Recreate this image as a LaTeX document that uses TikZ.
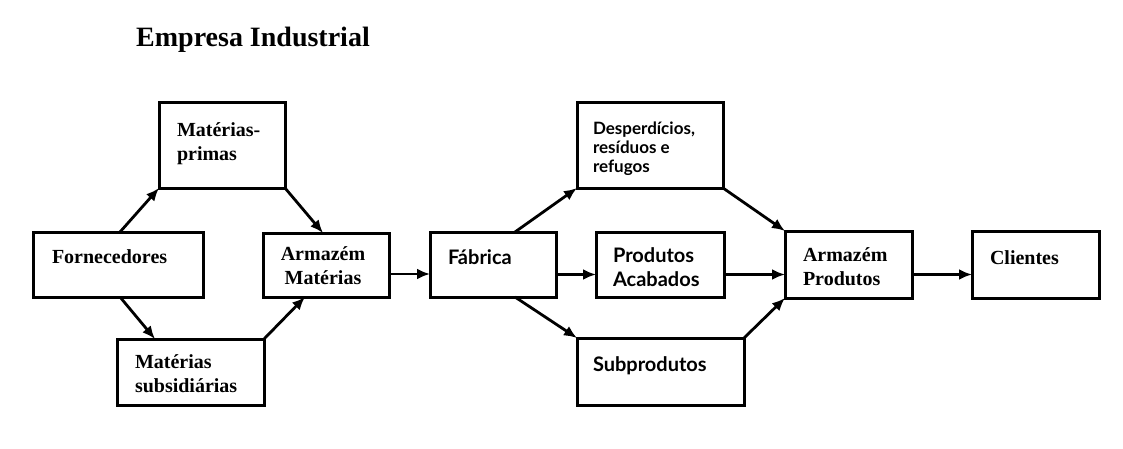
\documentclass[tikz,border=0pt]{standalone}
\usepackage{fontspec}
\setmainfont{Liberation Serif}
\newfontfamily\sansf{Lato}
\usetikzlibrary{arrows.meta,calc}
\tikzset{
  box/.style={draw, line width=3pt, rectangle, inner sep=0pt, outer sep=0pt},
  lbl/.style={inner sep=0pt, outer sep=0pt, anchor=base west, align=left,
              font=\bfseries\fontsize{20}{24}\selectfont},
  slbl/.style={lbl, font=\sansf\bfseries\fontsize{20}{24}\selectfont},
  tlbl/.style={lbl, font=\sansf\bfseries\fontsize{17}{19}\selectfont},
  arr/.style={line width=2.8pt, -{Latex[length=13pt,width=11pt]}},
}
\newcommand{\twol}[2]{\begin{tabular}[t]{@{}l@{}}#1\\#2\end{tabular}}
\newcommand{\twoc}[2]{\begin{tabular}[t]{@{}c@{}}#1\\#2\end{tabular}}
\begin{document}
\begin{tikzpicture}[x=1pt,y=-1pt]
\useasboundingbox[fill=white] (0,0) rectangle (1123,448);

\node[inner sep=0pt, anchor=base, font=\bfseries\fontsize{28}{32}\selectfont] (title) at (253,46) {Empresa Industrial};

% boxes
\node[box, minimum width=170pt, minimum height=65pt] (forn) at (118,264.5) {};
\node[box, minimum width=126pt, minimum height=86pt] (mp)   at (222,145) {};
\node[box, minimum width=147pt, minimum height=66pt] (ms)   at (190.5,372) {};
\node[box, minimum width=126pt, minimum height=64pt] (am)   at (326,265) {};
\node[box, minimum width=126pt, minimum height=65pt] (fab)  at (493,264.5) {};
\node[box, minimum width=146pt, minimum height=86pt] (desp) at (650,145) {};
\node[box, minimum width=128pt, minimum height=65pt] (pa)   at (660,264.5) {};
\node[box, minimum width=167pt, minimum height=67pt] (sub)  at (660.5,371.5) {};
\node[box, minimum width=127pt, minimum height=67pt] (ap)   at (848.5,264.5) {};
\node[box, minimum width=127pt, minimum height=67pt] (cli)  at (1035.5,264.5) {};

% labels
\node[lbl] (fornT) at (52,263) {Fornecedores};
\node[lbl] (mpT)   at (177,136) {\twol{Matérias-}{primas}};
\node[lbl] (msT)   at (135,368) {\twol{Matérias}{subsidiárias}};
\node[lbl, anchor=base] (amT) at (323,260) {\twoc{Armazém}{Matérias}};
\node[slbl] (fabT) at (448,264) {Fábrica};
\node[tlbl] (despT) at (593,134) {\begin{tabular}[t]{@{}l@{}}Desperdícios,\\resíduos e\\refugos\end{tabular}};
\node[slbl] (paT)  at (613,262) {\twol{Produtos}{Acabados}};
\node[slbl] (subT) at (593,371) {Subprodutos};
\node[lbl] (apT)   at (803,261) {\twol{Armazém}{Produtos}};
\node[lbl] (cliT)  at (990,264) {Clientes};

% connectors
\draw[arr] ($(forn.north west)+(87,0)$) -- (mp.south west);
\draw[arr] ($(forn.south west)+(87,0)$) -- ($(ms.north west)+(38,0)$);
\draw[arr] (mp.south east) -- ($(am.north west)+(60,0)$);
\draw[arr] (ms.north east) -- ($(am.south west)+(42,0)$);
\path (am.east) ++(0,9) coordinate (r1);
\draw[arr] (r1) -- (r1 -| fab.west);
\draw[arr] ($(fab.north west)+(85,0)$) -- (desp.south west);
\draw[arr] ($(fab.south west)+(85,0)$) -- (sub.north west);
\path (fab.east) ++(0,10) coordinate (r2);
\draw[arr] (r2) -- (r2 -| pa.west);
\draw[arr] (desp.south east) -- (ap.north west);
\path (pa.east) ++(0,10) coordinate (r3);
\draw[arr] (r3) -- (r3 -| ap.west);
\draw[arr] (sub.north east) -- (ap.south west);
\path (ap.east) ++(0,10) coordinate (r4);
\draw[arr] (r4) -- (r4 -| cli.west);
\end{tikzpicture}
\end{document}
